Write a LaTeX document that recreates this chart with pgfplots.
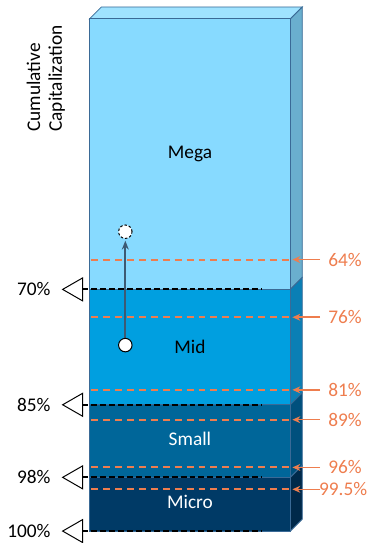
\documentclass[border=0pt]{standalone}
\usepackage{pgfplots}
\pgfplotsset{compat=1.18}
\usetikzlibrary{arrows.meta}
\usepackage{fontspec}
\setmainfont{Carlito}
\definecolor{megaF}{HTML}{87DAFF}
\definecolor{megaS}{HTML}{6AAFCE}
\definecolor{topF}{HTML}{9FE3FF}
\definecolor{midF}{HTML}{009FE0}
\definecolor{midS}{HTML}{0A7FB5}
\definecolor{smallF}{HTML}{006699}
\definecolor{smallS}{HTML}{00507D}
\definecolor{microF}{HTML}{003A66}
\definecolor{microS}{HTML}{00294A}
\definecolor{edge}{HTML}{3A6A96}
\definecolor{orng}{HTML}{EE7D4E}
\definecolor{arr}{HTML}{3D5A73}
\begin{document}
\fontsize{19.5}{22}\selectfont
\begin{tikzpicture}[font=\fontsize{19.5}{22}\selectfont, every node/.append style={inner sep=0pt}]
\begin{axis}[hide axis, scale only axis, width=369bp, height=543bp,
  xmin=0, xmax=369, ymin=0, ymax=543, y dir=reverse, clip=false]
\addplot[draw=none, forget plot] coordinates {(0,0) (369,543)};
% top face
\addplot[fill=topF, draw=edge, line width=0.8pt] coordinates {(90,19) (102,7) (304,7) (292,19)} --cycle;
% front and side faces
\addplot[fill=megaF, draw=edge, line width=0.8pt] coordinates {(90,19) (292,19) (292,291) (90,291)} --cycle;
\addplot[fill=megaS, draw=edge, line width=0.8pt] coordinates {(292,19) (304,7) (304,279) (292,291)} --cycle;
\addplot[fill=midF, draw=edge, line width=0.8pt] coordinates {(90,291) (292,291) (292,407) (90,407)} --cycle;
\addplot[fill=midS, draw=edge, line width=0.8pt] coordinates {(292,291) (304,279) (304,395) (292,407)} --cycle;
\addplot[fill=smallF, draw=edge, line width=0.8pt] coordinates {(90,407) (292,407) (292,480) (90,480)} --cycle;
\addplot[fill=smallS, draw=edge, line width=0.8pt] coordinates {(292,407) (304,395) (304,468) (292,480)} --cycle;
\addplot[fill=microF, draw=edge, line width=0.8pt] coordinates {(90,480) (292,480) (292,534) (90,534)} --cycle;
\addplot[fill=microS, draw=edge, line width=0.8pt] coordinates {(292,480) (304,468) (304,522) (292,534)} --cycle;
% orange dashed lines and arrows
\foreach \y/\lab/\lx in {261/64\%/347, 319/76\%/347, 392/81\%/347, 422/89\%/347, 470/96\%/347, 492/99.5\%/345}{
  \edef\tmp{\noexpand\addplot[orng, line width=2pt, dash pattern=on 7pt off 5pt] coordinates {(92,\y) (292,\y)};
  \noexpand\addplot[orng, line width=1.6pt, -{Stealth[length=8pt,width=7pt]}] coordinates {(322,\y) (294,\y)};
  \noexpand\node[text=orng] at (axis cs:\lx,\y) {\lab};}
  \tmp
}
% black dashed boundary lines with triangles
\foreach \y/\lab in {291/70\%, 407/85\%, 480/98\%, 534/100\%}{
  \edef\tmp{\noexpand\addplot[black, line width=2pt, dash pattern=on 6pt off 3pt] coordinates {(83,\y) (263,\y)};
  \noexpand\addplot[black, fill=white, line width=1pt] coordinates {(63,\y) (83,\y-11.5) (83,\y+11.5)} --cycle;
  \noexpand\node[anchor=east] at (axis cs:51,\y) {\lab};}
  \tmp
}
% arrow and markers
\addplot[arr, line width=2.2pt, -{Stealth[length=9pt,width=7pt]}] coordinates {(126,340) (126,242)};
\addplot[only marks, mark=*, mark size=6.8pt, mark options={fill=white, draw=black, line width=1pt}] coordinates {(126,347)};
\addplot[only marks, mark=*, mark size=6.8pt, mark options={fill=white, draw=black, line width=1pt, dash pattern=on 2.5pt off 2pt}] coordinates {(126,233)};
% labels
\node at (axis cs:191,155) {Mega};
\node at (axis cs:191,349) {Mid};
\node[text=white] at (axis cs:191,441) {Small};
\node[text=white] at (axis cs:191,505) {Micro};
\node[rotate=90, align=left] at (axis cs:46,79) {Cumulative\\Capitalization};
\end{axis}
\end{tikzpicture}
\end{document}
